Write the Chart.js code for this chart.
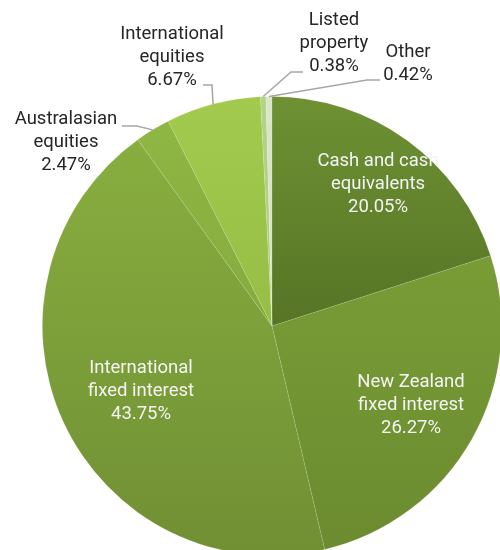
<!DOCTYPE html>
<html lang="en">
<head>
    <meta charset="UTF-8">
    <title>Asset allocation</title>
    <script src="https://cdn.jsdelivr.net/npm/chart.js"></script>
    <style>
        html, body {
            margin: 0;
            padding: 0;
            background: #ffffff;
            overflow: hidden;
        }
        canvas {
            display: block;
        }
    </style>
</head>
<body>
    <canvas id="pieChart" width="544" height="652"></canvas>
    <script>
        // Data
        const categories = [
            'Cash and cash equivalents',
            'New Zealand fixed interest',
            'International fixed interest',
            'Australasian equities',
            'International equities',
            'Listed property',
            'Other'
        ];
        const shares = [20.05, 26.27, 43.75, 2.47, 6.67, 0.38, 0.42];
        const labelLines = [
            ['Cash and cash', 'equivalents'],
            ['New Zealand', 'fixed interest'],
            ['International', 'fixed interest'],
            ['Australasian', 'equities'],
            ['International', 'equities'],
            ['Listed', 'property'],
            ['Other']
        ];

        // Styling (top / bottom colours of each slice's shading)
        const topColors = ['#6e9133', '#80a53a', '#8bb140', '#90b844', '#a2ca4d', '#b3d386', '#d8e6cb'];
        const bottomColors = ['#3f5818', '#6b8b2f', '#708f34', '#7a9e38', '#8ab23e', '#a5c776', '#cfdfc0'];

        // label placement: centre x, first-line y, text colour, elbow (for outside labels)
        const labelPlace = [
            { x: 378, y: 161, color: '#f4f4f4' },
            { x: 411, y: 382, color: '#f4f4f4' },
            { x: 141, y: 368, color: '#f4f4f4' },
            { x: 66, y: 119, color: '#262626', anchor: [122, 126], elbow: [137, 126] },
            { x: 172, y: 34, color: '#262626', anchor: [203, 85], elbow: [212, 85] },
            { x: 334, y: 20, color: '#262626', anchor: [303, 72], elbow: [291, 72] },
            { x: 408, y: 52, color: '#262626', anchor: [380, 80], elbow: [367, 80] }
        ];
        const lineHeight = 23;

        function sliceGradient(context) {
            const chart = context.chart;
            const area = chart.chartArea;
            if (!area) return topColors[context.dataIndex];
            const g = chart.ctx.createLinearGradient(0, area.top, 0, area.bottom);
            g.addColorStop(0, topColors[context.dataIndex]);
            g.addColorStop(1, bottomColors[context.dataIndex]);
            return g;
        }

        const labelPlugin = {
            id: 'sliceLabels',
            afterDatasetsDraw(chart) {
                const ctx = chart.ctx;
                const meta = chart.getDatasetMeta(0);
                ctx.save();
                ctx.font = '18.5px Roboto, "Noto Sans", sans-serif';
                ctx.textAlign = 'center';
                ctx.textBaseline = 'middle';
                meta.data.forEach((arc, i) => {
                    const p = labelPlace[i];
                    if (p.anchor) {
                        const mid = (arc.startAngle + arc.endAngle) / 2;
                        const ex = arc.x + Math.cos(mid) * arc.outerRadius;
                        const ey = arc.y + Math.sin(mid) * arc.outerRadius;
                        ctx.strokeStyle = '#a6a6a6';
                        ctx.lineWidth = 1.5;
                        ctx.beginPath();
                        ctx.moveTo(p.anchor[0], p.anchor[1]);
                        ctx.lineTo(p.elbow[0], p.elbow[1]);
                        ctx.lineTo(ex, ey);
                        ctx.stroke();
                    }
                    const lines = labelLines[i].concat([shares[i].toFixed(2) + '%']);
                    ctx.fillStyle = p.color;
                    lines.forEach((t, k) => ctx.fillText(t, p.x, p.y + k * lineHeight));
                });
                ctx.restore();
            }
        };

        const ctx = document.getElementById('pieChart').getContext('2d');
        new Chart(ctx, {
            type: 'pie',
            data: {
                labels: categories,
                datasets: [{
                    data: shares,
                    backgroundColor: sliceGradient,
                    borderColor: 'rgba(255,255,255,0.15)',
                    borderWidth: 0.75
                }]
            },
            options: {
                responsive: false,
                animation: false,
                layout: { padding: { left: 42, right: 42, top: 96, bottom: 96 } },
                plugins: {
                    legend: { display: false },
                    tooltip: { enabled: false }
                }
            },
            plugins: [labelPlugin]
        });
    </script>
</body>
</html>
